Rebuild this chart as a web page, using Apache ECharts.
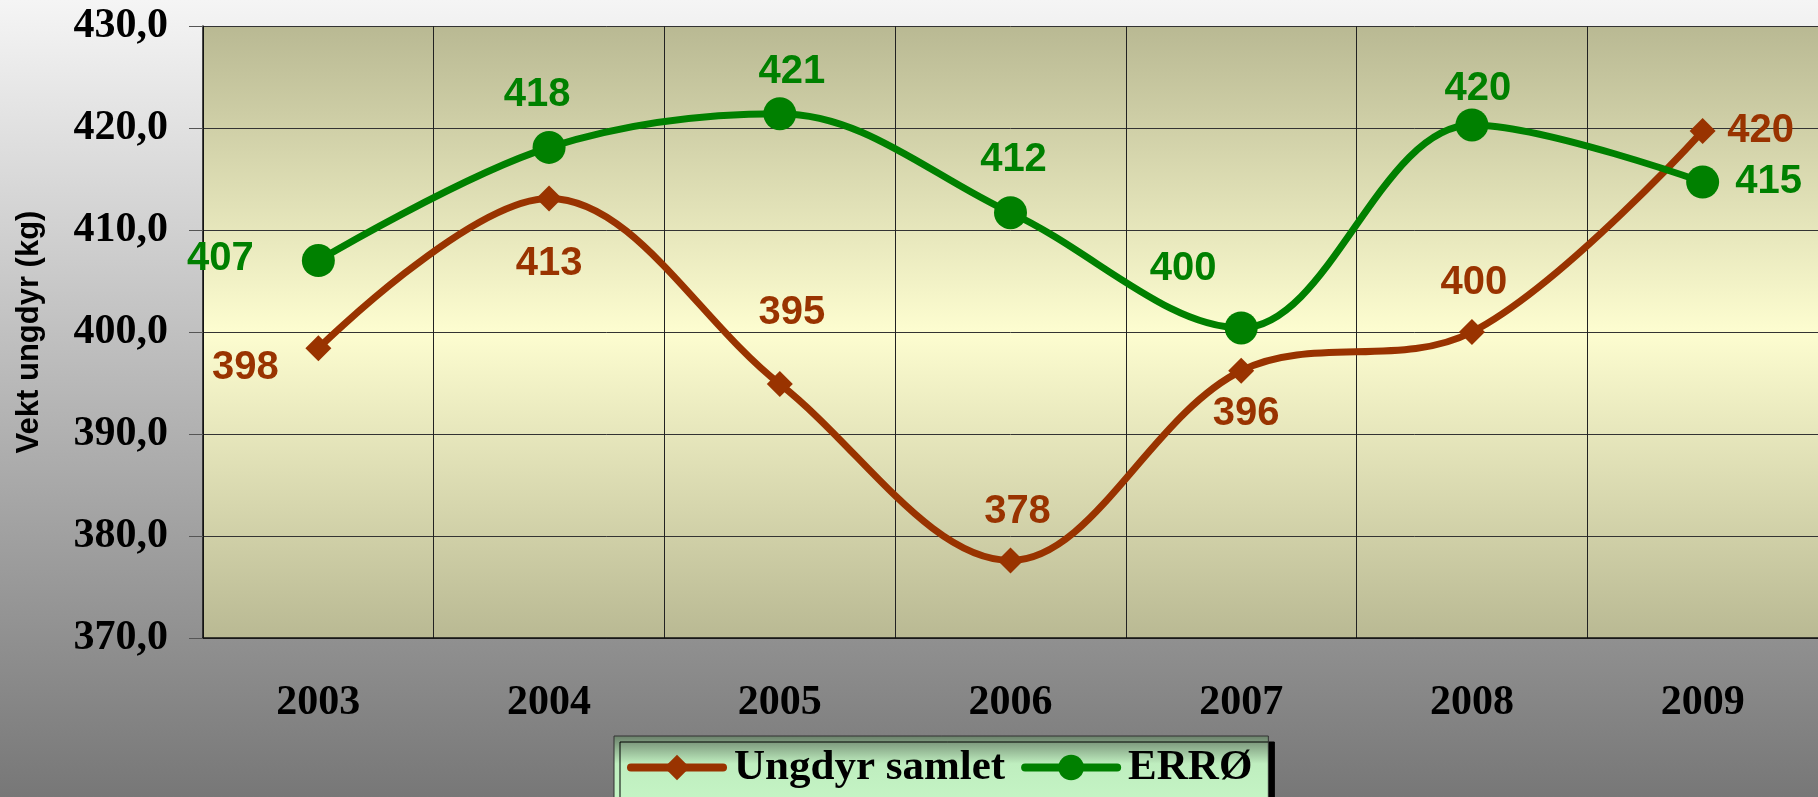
<!DOCTYPE html>
<html>
<head>
<meta charset="utf-8">
<script src="https://cdn.jsdelivr.net/npm/echarts@6/dist/echarts.min.js"></script>
<style>
  html, body { margin: 0; padding: 0; }
  #chart {
    width: 1818px; height: 797px;
    background: linear-gradient(to bottom, #f5f5f5 0%, #777777 100%);
  }
</style>
</head>
<body>
<div id="chart"></div>
<script>
const chart = echarts.init(document.getElementById('chart'));

const years = ['2003', '2004', '2005', '2006', '2007', '2008', '2009'];

const ungdyr = [398.4, 413.1, 394.9, 377.6, 396.2, 400.0, 419.7];

const erro = [407.0, 418.1, 421.4, 411.7, 400.4, 420.3, 414.7];

const yTicks = { min: 370, max: 430, step: 10 };

// label offsets from the point centre, per year
const ungdyrOffsets = [[-73, 20], [0, 66], [12, -71], [7, -49], [5, 43], [2, -49], [58, 0]];
const erroOffsets = [[-98, -2], [-12, -52], [12, -42], [3, -53], [-58, -59], [6, -36], [66, 0]];

function withLabels(values, offsets) {
  return values.map(function (v, i) {
    return { value: v, label: { offset: offsets[i] } };
  });
}

const labelFont = {
  show: true,
  position: 'inside',
  fontFamily: 'Liberation Sans',
  fontWeight: 'bold',
  fontSize: 40,
  formatter: function (p) { return Math.round(p.value); }
};

const option = {
  backgroundColor: 'transparent',
  animation: false,

  grid: {
    left: 203,
    top: 26,
    width: 1617,
    height: 612,
    show: true,
    borderWidth: 0,
    backgroundColor: {
      type: 'linear', x: 0, y: 0, x2: 0, y2: 1,
      colorStops: [
        { offset: 0, color: '#b9b993' },
        { offset: 0.5, color: '#fdfdd0' },
        { offset: 1, color: '#b9b993' }
      ]
    }
  },

  legend: {
    left: 614,
    top: 736,
    padding: [10, 16, 40, 13],
    itemGap: 16,
    itemWidth: 92,
    itemHeight: 32,
    backgroundColor: {
      type: 'linear', x: 0, y: 0, x2: 0, y2: 1,
      colorStops: [
        { offset: 0, color: '#6a806a' },
        { offset: 0.3, color: '#bfeebf' },
        { offset: 1, color: '#c9f9c9' }
      ]
    },
    borderColor: '#333',
    borderWidth: 1,
    shadowColor: '#000',
    shadowBlur: 0,
    shadowOffsetX: 6,
    shadowOffsetY: 6,
    textStyle: {
      fontFamily: 'Liberation Serif',
      fontWeight: 'bold',
      fontSize: 43,
      color: '#000',
      padding: [0, 0, 0, 6]
    },
    data: [
      { name: 'Ungdyr samlet', lineStyle: { width: 8, cap: 'round' } },
      { name: 'ERRØ', lineStyle: { width: 8, cap: 'round' } }
    ]
  },

  xAxis: [{
    type: 'category',
    data: years,
    boundaryGap: true,
    axisLine: { lineStyle: { color: '#111', width: 1.5 } },
    axisTick: { length: 15, lineStyle: { color: '#333' } },
    splitLine: { show: true, lineStyle: { color: '#222', width: 1 } },
    axisLabel: {
      margin: 44,
      fontFamily: 'Liberation Serif',
      fontWeight: 'bold',
      fontSize: 42,
      color: '#000'
    }
  }, {
    type: 'category',
    data: years,
    position: 'bottom',
    boundaryGap: true,
    axisLine: { show: false },
    axisTick: { alignWithLabel: true, length: 11, lineStyle: { color: '#333' } },
    axisLabel: { show: false },
    splitLine: { show: false }
  }],

  yAxis: {
    type: 'value',
    min: yTicks.min,
    max: yTicks.max,
    interval: yTicks.step,
    name: 'Vekt ungdyr (kg)',
    nameLocation: 'middle',
    nameGap: 158,
    nameTextStyle: {
      fontFamily: 'Liberation Sans',
      fontWeight: 'bold',
      fontSize: 31,
      color: '#000'
    },
    axisLine: { show: true, lineStyle: { color: '#111', width: 1.5 } },
    axisTick: { show: true, length: 14, lineStyle: { color: '#555' } },
    splitLine: { lineStyle: { color: '#333', width: 1 } },
    axisLabel: {
      margin: 35,
      fontFamily: 'Liberation Serif',
      fontWeight: 'bold',
      fontSize: 42,
      color: '#000',
      formatter: function (v) { return v.toFixed(1).replace('.', ','); }
    }
  },

  series: [{
    name: 'Ungdyr samlet',
    type: 'line',
    smooth: 0.35,
    data: withLabels(ungdyr, ungdyrOffsets),
    symbol: 'diamond',
    symbolSize: 26,
    lineStyle: { color: '#993300', width: 7 },
    itemStyle: { color: '#993300' },
    label: Object.assign({ color: '#993300' }, labelFont),
    z: 3
  }, {
    name: 'ERRØ',
    type: 'line',
    smooth: 0.35,
    data: withLabels(erro, erroOffsets),
    symbol: 'circle',
    symbolSize: 33,
    lineStyle: { color: '#008000', width: 7 },
    itemStyle: { color: '#008000' },
    label: Object.assign({ color: '#008000' }, labelFont),
    z: 4
  }]
};

chart.setOption(option);
</script>
</body>
</html>
